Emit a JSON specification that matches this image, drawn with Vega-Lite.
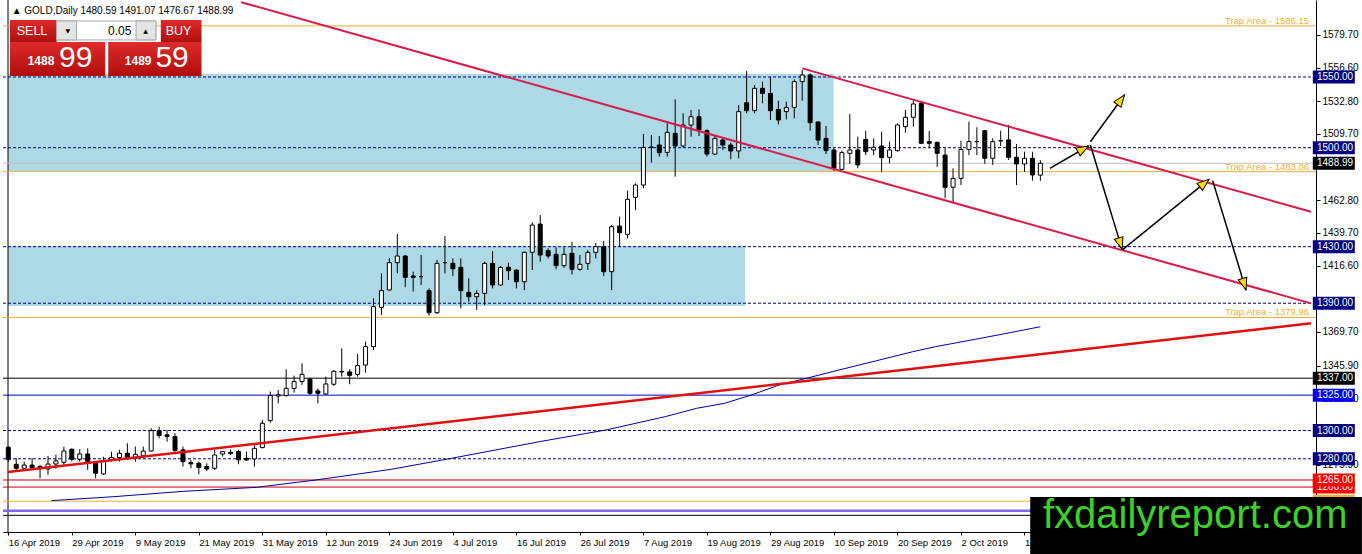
{
  "$schema": "https://vega.github.io/schema/vega-lite/v6.json",
  "width": 1313,
  "height": 532,
  "autosize": {"type": "none"},
  "padding": {"left": 3, "top": 0, "right": 46, "bottom": 22},
  "background": "white",
  "config": {"view": {"stroke": null}, "text": {"font": "Liberation Sans"}},
  "resolve": {"axis": {"x": "independent", "y": "independent"}},
  "datasets": {
    "bars": [
      {"i":0,"o":1288.1,"h":1289.0,"l":1277.5,"c":1279.5},
      {"i":1,"o":1276.1,"h":1280.4,"l":1272.1,"c":1273.3},
      {"i":2,"o":1273.3,"h":1278.0,"l":1271.4,"c":1275.6},
      {"i":3,"o":1275.6,"h":1280.4,"l":1272.1,"c":1273.8},
      {"i":4,"o":1274.5,"h":1275.6,"l":1266.2,"c":1273.3},
      {"i":5,"o":1272.8,"h":1282.0,"l":1268.6,"c":1276.3},
      {"i":6,"o":1276.3,"h":1283.0,"l":1273.0,"c":1278.5},
      {"i":7,"o":1277.5,"h":1288.6,"l":1275.6,"c":1285.5},
      {"i":8,"o":1286.7,"h":1287.4,"l":1278.0,"c":1279.7},
      {"i":9,"o":1279.7,"h":1286.7,"l":1278.0,"c":1283.4},
      {"i":10,"o":1283.4,"h":1287.4,"l":1272.1,"c":1278.0},
      {"i":11,"o":1276.8,"h":1278.0,"l":1266.2,"c":1269.8},
      {"i":12,"o":1269.3,"h":1281.5,"l":1268.6,"c":1278.7},
      {"i":13,"o":1279.2,"h":1285.0,"l":1278.0,"c":1280.9},
      {"i":14,"o":1280.9,"h":1286.3,"l":1278.0,"c":1283.9},
      {"i":15,"o":1283.9,"h":1291.0,"l":1279.2,"c":1280.9},
      {"i":16,"o":1280.4,"h":1288.6,"l":1278.0,"c":1283.2},
      {"i":17,"o":1282.2,"h":1288.6,"l":1280.4,"c":1285.5},
      {"i":18,"o":1285.5,"h":1301.6,"l":1285.1,"c":1299.9},
      {"i":19,"o":1299.9,"h":1302.7,"l":1294.5,"c":1296.4},
      {"i":20,"o":1296.9,"h":1300.4,"l":1292.1,"c":1295.7},
      {"i":21,"o":1295.7,"h":1298.0,"l":1285.1,"c":1285.8},
      {"i":22,"o":1286.3,"h":1288.6,"l":1274.5,"c":1278.0},
      {"i":23,"o":1277.3,"h":1279.2,"l":1273.3,"c":1276.4},
      {"i":24,"o":1276.8,"h":1278.0,"l":1269.0,"c":1273.8},
      {"i":25,"o":1274.5,"h":1276.8,"l":1271.4,"c":1272.8},
      {"i":26,"o":1273.3,"h":1286.3,"l":1272.1,"c":1282.7},
      {"i":27,"o":1283.4,"h":1285.5,"l":1281.5,"c":1285.1},
      {"i":28,"o":1284.6,"h":1286.7,"l":1282.7,"c":1283.6},
      {"i":29,"o":1285.1,"h":1286.3,"l":1276.1,"c":1279.2},
      {"i":30,"o":1280.4,"h":1285.1,"l":1278.5,"c":1279.2},
      {"i":31,"o":1279.9,"h":1291.0,"l":1274.5,"c":1287.4},
      {"i":32,"o":1287.9,"h":1307.5,"l":1287.4,"c":1305.1},
      {"i":33,"o":1307.0,"h":1327.5,"l":1305.6,"c":1324.7},
      {"i":34,"o":1324.4,"h":1328.7,"l":1319.2,"c":1325.2},
      {"i":35,"o":1324.7,"h":1343.3,"l":1324.0,"c":1329.8},
      {"i":36,"o":1329.8,"h":1338.8,"l":1326.8,"c":1334.6},
      {"i":37,"o":1334.6,"h":1347.5,"l":1332.2,"c":1339.7},
      {"i":38,"o":1336.4,"h":1336.9,"l":1325.1,"c":1326.3},
      {"i":39,"o":1328.0,"h":1329.8,"l":1319.2,"c":1326.3},
      {"i":40,"o":1325.8,"h":1338.1,"l":1325.1,"c":1332.9},
      {"i":41,"o":1332.7,"h":1342.8,"l":1331.5,"c":1341.9},
      {"i":42,"o":1341.4,"h":1358.1,"l":1338.1,"c":1341.8},
      {"i":43,"o":1341.4,"h":1343.3,"l":1332.7,"c":1339.0},
      {"i":44,"o":1339.7,"h":1354.1,"l":1338.1,"c":1345.9},
      {"i":45,"o":1346.3,"h":1362.8,"l":1340.9,"c":1359.3},
      {"i":46,"o":1359.3,"h":1393.5,"l":1356.9,"c":1387.6},
      {"i":47,"o":1387.1,"h":1411.2,"l":1381.7,"c":1398.9},
      {"i":48,"o":1399.4,"h":1421.8,"l":1398.9,"c":1418.7},
      {"i":49,"o":1418.7,"h":1439.0,"l":1411.2,"c":1423.4},
      {"i":50,"o":1423.4,"h":1424.1,"l":1401.3,"c":1408.3},
      {"i":51,"o":1409.3,"h":1412.3,"l":1398.2,"c":1408.3},
      {"i":52,"o":1408.8,"h":1424.1,"l":1402.9,"c":1408.8},
      {"i":53,"o":1398.9,"h":1400.5,"l":1381.2,"c":1383.3},
      {"i":54,"o":1383.3,"h":1420.6,"l":1382.4,"c":1418.2},
      {"i":55,"o":1418.7,"h":1437.5,"l":1411.1,"c":1418.7},
      {"i":56,"o":1418.2,"h":1421.7,"l":1409.2,"c":1414.4},
      {"i":57,"o":1415.4,"h":1421.7,"l":1386.4,"c":1398.9},
      {"i":58,"o":1397.7,"h":1407.6,"l":1391.0,"c":1394.6},
      {"i":59,"o":1394.6,"h":1399.3,"l":1385.2,"c":1397.0},
      {"i":60,"o":1397.0,"h":1419.4,"l":1388.7,"c":1418.2},
      {"i":61,"o":1418.2,"h":1426.9,"l":1400.5,"c":1402.9},
      {"i":62,"o":1402.9,"h":1416.3,"l":1402.2,"c":1415.4},
      {"i":63,"o":1415.4,"h":1418.7,"l":1406.4,"c":1413.0},
      {"i":64,"o":1413.5,"h":1414.0,"l":1400.5,"c":1405.2},
      {"i":65,"o":1405.2,"h":1426.5,"l":1399.3,"c":1426.0},
      {"i":66,"o":1426.0,"h":1447.2,"l":1413.5,"c":1445.3},
      {"i":67,"o":1446.0,"h":1452.4,"l":1419.4,"c":1424.1},
      {"i":68,"o":1427.2,"h":1428.8,"l":1421.7,"c":1423.4},
      {"i":69,"o":1424.6,"h":1429.5,"l":1414.0,"c":1416.6},
      {"i":70,"o":1416.6,"h":1429.5,"l":1415.1,"c":1424.6},
      {"i":71,"o":1425.3,"h":1433.5,"l":1410.4,"c":1414.0},
      {"i":72,"o":1414.0,"h":1424.1,"l":1413.0,"c":1417.5},
      {"i":73,"o":1418.2,"h":1427.6,"l":1413.5,"c":1426.0},
      {"i":74,"o":1426.0,"h":1432.8,"l":1421.7,"c":1430.0},
      {"i":75,"o":1430.0,"h":1434.0,"l":1409.2,"c":1412.3},
      {"i":76,"o":1412.3,"h":1445.3,"l":1399.3,"c":1444.1},
      {"i":77,"o":1444.6,"h":1451.2,"l":1430.0,"c":1439.9},
      {"i":78,"o":1438.7,"h":1469.6,"l":1435.9,"c":1463.5},
      {"i":79,"o":1464.9,"h":1474.8,"l":1455.9,"c":1473.6},
      {"i":80,"o":1473.6,"h":1509.7,"l":1471.3,"c":1500.2},
      {"i":81,"o":1500.2,"h":1509.0,"l":1489.4,"c":1500.5},
      {"i":82,"o":1501.9,"h":1508.3,"l":1493.6,"c":1496.5},
      {"i":83,"o":1496.7,"h":1518.9,"l":1493.6,"c":1510.9},
      {"i":84,"o":1510.1,"h":1534.2,"l":1479.5,"c":1501.2},
      {"i":85,"o":1501.2,"h":1524.3,"l":1500.2,"c":1516.0},
      {"i":86,"o":1516.0,"h":1526.6,"l":1507.8,"c":1521.9},
      {"i":87,"o":1521.9,"h":1527.1,"l":1508.3,"c":1512.5},
      {"i":88,"o":1512.0,"h":1513.0,"l":1493.6,"c":1495.5},
      {"i":89,"o":1495.5,"h":1508.3,"l":1494.8,"c":1506.6},
      {"i":90,"o":1505.4,"h":1506.6,"l":1498.4,"c":1501.9},
      {"i":91,"o":1501.9,"h":1503.5,"l":1491.8,"c":1497.7},
      {"i":92,"o":1497.7,"h":1530.2,"l":1492.5,"c":1525.5},
      {"i":93,"o":1531.8,"h":1554.2,"l":1524.3,"c":1526.2},
      {"i":94,"o":1526.2,"h":1544.3,"l":1524.3,"c":1542.0},
      {"i":95,"o":1542.0,"h":1546.7,"l":1531.4,"c":1538.4},
      {"i":96,"o":1538.4,"h":1550.2,"l":1519.6,"c":1526.2},
      {"i":97,"o":1527.1,"h":1533.2,"l":1516.5,"c":1519.6},
      {"i":98,"o":1525.5,"h":1532.5,"l":1520.0,"c":1528.5},
      {"i":99,"o":1528.5,"h":1548.3,"l":1520.8,"c":1546.7},
      {"i":100,"o":1546.7,"h":1554.9,"l":1533.2,"c":1551.4},
      {"i":101,"o":1551.4,"h":1552.6,"l":1512.0,"c":1517.7},
      {"i":102,"o":1518.2,"h":1518.4,"l":1501.9,"c":1505.4},
      {"i":103,"o":1506.6,"h":1515.3,"l":1495.5,"c":1497.9},
      {"i":104,"o":1498.4,"h":1499.6,"l":1483.5,"c":1485.4},
      {"i":105,"o":1484.7,"h":1497.9,"l":1484.2,"c":1496.5},
      {"i":106,"o":1496.0,"h":1523.8,"l":1488.5,"c":1498.4},
      {"i":107,"o":1498.4,"h":1507.8,"l":1485.4,"c":1487.8},
      {"i":108,"o":1505.9,"h":1512.0,"l":1494.8,"c":1497.2},
      {"i":109,"o":1498.4,"h":1506.6,"l":1494.8,"c":1500.3},
      {"i":110,"o":1501.2,"h":1511.3,"l":1483.0,"c":1493.0},
      {"i":111,"o":1493.2,"h":1504.3,"l":1488.9,"c":1498.4},
      {"i":112,"o":1497.9,"h":1517.2,"l":1497.2,"c":1516.1},
      {"i":113,"o":1514.9,"h":1526.7,"l":1510.6,"c":1521.5},
      {"i":114,"o":1521.5,"h":1533.3,"l":1514.9,"c":1530.9},
      {"i":115,"o":1531.4,"h":1533.3,"l":1502.6,"c":1503.1},
      {"i":116,"o":1504.3,"h":1511.8,"l":1499.6,"c":1503.1},
      {"i":117,"o":1503.8,"h":1504.3,"l":1486.6,"c":1496.0},
      {"i":118,"o":1494.8,"h":1499.6,"l":1464.2,"c":1472.0},
      {"i":119,"o":1472.0,"h":1485.4,"l":1460.7,"c":1478.3},
      {"i":120,"o":1478.3,"h":1505.0,"l":1473.6,"c":1498.8},
      {"i":121,"o":1498.8,"h":1518.4,"l":1494.8,"c":1504.3},
      {"i":122,"o":1504.3,"h":1514.4,"l":1494.8,"c":1504.3},
      {"i":123,"o":1512.0,"h":1512.5,"l":1488.5,"c":1492.5},
      {"i":124,"o":1492.5,"h":1506.6,"l":1487.8,"c":1504.3},
      {"i":125,"o":1504.8,"h":1512.0,"l":1501.2,"c":1505.0},
      {"i":126,"o":1505.5,"h":1516.1,"l":1491.3,"c":1493.2},
      {"i":127,"o":1493.2,"h":1502.6,"l":1473.6,"c":1488.5},
      {"i":128,"o":1488.5,"h":1497.2,"l":1483.0,"c":1492.5},
      {"i":129,"o":1492.5,"h":1497.2,"l":1476.7,"c":1480.7},
      {"i":130,"o":1480.59,"h":1491.07,"l":1476.67,"c":1488.99}
    ],
    "levels": [
      {"p":1586.15,"kind":"trap","label":"Trap Area  - 1586.15"},
      {"p":1550,"kind":"dash"},
      {"p":1500,"kind":"dash"},
      {"p":1488.99,"kind":"bid"},
      {"p":1483.06,"kind":"trap","label":"Trap Area - 1483.06"},
      {"p":1430,"kind":"dash"},
      {"p":1390,"kind":"dash"},
      {"p":1379.96,"kind":"trap","label":"Trap Area - 1379.96"},
      {"p":1337,"kind":"black"},
      {"p":1325,"kind":"blue"},
      {"p":1300,"kind":"dash"},
      {"p":1280,"kind":"dash"},
      {"p":1260,"kind":"red"},
      {"p":1265,"kind":"red"},
      {"p":1250,"kind":"orange"},
      {"p":1243.3,"kind":"purple"},
      {"p":1240,"kind":"black"}
    ],
    "zones": [
      {"i1":-0.0375,"i2":103.96,"p1":1483.3,"p2":1552.2},
      {"i1":-0.0375,"i2":92.8,"p1":1388.0,"p2":1430.5}
    ],
    "trend": [
      {"kind":"pink","x1":29.34,"p1":1602.9,"x2":164.09,"p2":1389.9},
      {"kind":"pink","x1":100.0,"p1":1556.1,"x2":164.09,"p2":1454.7},
      {"kind":"red","x1":-0.04,"p1":1270.65,"x2":164.09,"p2":1375.8}
    ],
    "ma": [
      {"i":5.43,"p":1250.4},{"i":13.3,"p":1253.2},{"i":22.1,"p":1257.0},{"i":31.25,"p":1259.8},
      {"i":38.75,"p":1265.0},{"i":48.3,"p":1272.6},{"i":55.8,"p":1280.3},{"i":66.9,"p":1292.1},
      {"i":75.3,"p":1300.4},{"i":82.75,"p":1309.8},{"i":86.7,"p":1315.7},{"i":90.2,"p":1319.2},
      {"i":93.6,"p":1325.1},{"i":97.1,"p":1332.2},{"i":100.5,"p":1336.9},{"i":105,"p":1343.3},
      {"i":109.4,"p":1349.4},{"i":113.9,"p":1355.7},{"i":116.8,"p":1359.3},{"i":121.8,"p":1364.5},
      {"i":126.2,"p":1369.2},{"i":130,"p":1373.4}
    ],
    "arrows": [
      {"x1":131.2,"p1":1485.4,"x2":136.05,"p2":1501.2},
      {"x1":136.3,"p1":1504.2,"x2":140.6,"p2":1537.3},
      {"x1":136.3,"p1":1501.9,"x2":140.3,"p2":1428.1},
      {"x1":140.4,"p1":1428.1,"x2":151.25,"p2":1477.6},
      {"x1":151.7,"p1":1476.7,"x2":155.9,"p2":1399.4}
    ],
    "panel": [
      {"part":"red","i1":0.21,"i2":6.09,"p1":1574.75,"p2":1590.3},
      {"part":"red","i1":0.21,"i2":12.21,"p1":1550.7,"p2":1574.75},
      {"part":"red","i1":19.21,"i2":24.34,"p1":1574.75,"p2":1590.3},
      {"part":"red","i1":12.59,"i2":24.34,"p1":1550.7,"p2":1574.75},
      {"part":"white","i1":6.09,"i2":18.59,"p1":1576.2,"p2":1589.6},
      {"part":"grey","i1":6.09,"i2":8.59,"p1":1576.2,"p2":1589.6},
      {"part":"grey","i1":16.09,"i2":18.59,"p1":1576.2,"p2":1589.6}
    ],
    "ptext": [
      {"t":"SELL","i":2.99,"p":1582.5,"role":"btn"},
      {"t":"BUY","i":21.44,"p":1582.5,"role":"btn"},
      {"t":"0.05","i":15.5,"p":1582.7,"role":"lot"},
      {"t":"▼","i":7.5,"p":1582.7,"role":"arrow"},
      {"t":"▲","i":17.3,"p":1582.7,"role":"arrow"},
      {"t":"1488","i":4.12,"p":1561.3,"role":"small"},
      {"t":"1489","i":16.36,"p":1561.3,"role":"small"},
      {"t":"99","i":8.49,"p":1563.2,"role":"big"},
      {"t":"59","i":20.63,"p":1563.2,"role":"big"}
    ]
  },
  "layer": [
    {
      "data": {"name": "zones"},
      "mark": {"type": "rect", "color": "#ADD8E6"},
      "encoding": {
        "x": {"field": "i1", "type": "quantitative", "scale": {"domain": [-0.0375, 164.0875], "nice": false, "zero": false},
          "axis": {"orient": "bottom", "title": null, "grid": false, "values": [0,8,16,24,32,40,48,56,64,72,80,88,96,104,112,120,128],
            "labelExpr": "['16 Apr 2019','29 Apr 2019','9 May 2019','21 May 2019','31 May 2019','12 Jun 2019','24 Jun 2019','4 Jul 2019','16 Jul 2019','26 Jul 2019','7 Aug 2019','19 Aug 2019','29 Aug 2019','10 Sep 2019','20 Sep 2019','2 Oct 2019','14 Oct 2019'][datum.value/8]",
            "domainColor": "#000", "tickColor": "#000", "tickSize": 3, "labelAlign": "left", "labelBaseline": "top", "labelFlush": false, "labelOverlap": false,
            "labelPadding": 2, "labelFont": "Liberation Sans", "labelFontSize": 9.5, "labelColor": "#000"}},
        "x2": {"field": "i2"},
        "y": {"field": "p1", "type": "quantitative", "scale": {"domain": [1228.22, 1604.45], "nice": false, "zero": false},
          "axis": {"orient": "right", "title": null, "grid": false, "values": [1579.7,1556.6,1532.8,1509.7,1462.8,1439.7,1416.6,1369.7,1345.9,1322.8,1275.9],
            "labelExpr": "format(datum.value, '.2f')", "domainColor": "#000", "tickColor": "#000", "tickSize": 4, "labelPadding": 2,
            "labelFlush": false, "labelOverlap": false, "labelAlign": "left", "labelBaseline": "middle",
            "labelFont": "Liberation Sans", "labelFontSize": 10, "labelColor": "#000"}},
        "y2": {"field": "p2"}
      }
    },
    {
      "data": {"values": [{}]},
      "mark": {"type": "rule", "color": "#000", "strokeWidth": 1},
      "encoding": {"x": {"datum": -0.0375, "type": "quantitative", "scale": {"domain": [-0.0375, 164.0875], "nice": false, "zero": false}, "axis": null}}
    },
    {
      "data": {"name": "levels"},
      "transform": [{"filter": "datum.kind == 'trap' || datum.kind == 'orange'"}],
      "mark": {"type": "rule", "color": "#F0B030", "strokeWidth": 1},
      "encoding": {"y": {"field": "p", "type": "quantitative", "scale": {"domain": [1228.22, 1604.45], "nice": false, "zero": false}, "axis": null}}
    },
    {
      "data": {"name": "levels"},
      "transform": [{"filter": "datum.kind == 'bid'"}],
      "mark": {"type": "rule", "color": "#C0C0C0", "strokeWidth": 1},
      "encoding": {"y": {"field": "p", "type": "quantitative", "scale": {"domain": [1228.22, 1604.45], "nice": false, "zero": false}, "axis": null}}
    },
    {
      "data": {"name": "levels"},
      "transform": [{"filter": "datum.kind == 'dash'"}],
      "mark": {"type": "rule", "color": "#000080", "strokeWidth": 1, "strokeDash": [3, 2]},
      "encoding": {"y": {"field": "p", "type": "quantitative", "scale": {"domain": [1228.22, 1604.45], "nice": false, "zero": false}, "axis": null}}
    },
    {
      "data": {"name": "levels"},
      "transform": [{"filter": "datum.kind == 'black'"}],
      "mark": {"type": "rule", "color": "#000000", "strokeWidth": 1},
      "encoding": {"y": {"field": "p", "type": "quantitative", "scale": {"domain": [1228.22, 1604.45], "nice": false, "zero": false}, "axis": null}}
    },
    {
      "data": {"name": "levels"},
      "transform": [{"filter": "datum.kind == 'blue'"}],
      "mark": {"type": "rule", "color": "#0000CC", "strokeWidth": 1},
      "encoding": {"y": {"field": "p", "type": "quantitative", "scale": {"domain": [1228.22, 1604.45], "nice": false, "zero": false}, "axis": null}}
    },
    {
      "data": {"name": "levels"},
      "transform": [{"filter": "datum.kind == 'red'"}],
      "mark": {"type": "rule", "color": "#C80000", "strokeWidth": 1},
      "encoding": {"y": {"field": "p", "type": "quantitative", "scale": {"domain": [1228.22, 1604.45], "nice": false, "zero": false}, "axis": null}}
    },
    {
      "data": {"name": "levels"},
      "transform": [{"filter": "datum.kind == 'purple'"}],
      "mark": {"type": "rule", "color": "#7B68EE", "strokeWidth": 2.5},
      "encoding": {"y": {"field": "p", "type": "quantitative", "scale": {"domain": [1228.22, 1604.45], "nice": false, "zero": false}, "axis": null}}
    },
    {
      "data": {"name": "ma"},
      "mark": {"type": "line", "color": "#0000A0", "strokeWidth": 1},
      "encoding": {
        "x": {"field": "i", "type": "quantitative", "scale": {"domain": [-0.0375, 164.0875], "nice": false, "zero": false}, "axis": null},
        "y": {"field": "p", "type": "quantitative", "scale": {"domain": [1228.22, 1604.45], "nice": false, "zero": false}, "axis": null}
      }
    },
    {
      "data": {"name": "bars"},
      "mark": {"type": "rule", "color": "#000", "strokeWidth": 1},
      "encoding": {
        "x": {"field": "i", "type": "quantitative", "scale": {"domain": [-0.0375, 164.0875], "nice": false, "zero": false}, "axis": null},
        "y": {"field": "l", "type": "quantitative", "scale": {"domain": [1228.22, 1604.45], "nice": false, "zero": false}, "axis": null},
        "y2": {"field": "h"}
      }
    },
    {
      "data": {"name": "bars"},
      "mark": {"type": "bar", "size": 4, "stroke": "#000", "strokeWidth": 1},
      "encoding": {
        "x": {"field": "i", "type": "quantitative", "scale": {"domain": [-0.0375, 164.0875], "nice": false, "zero": false}, "axis": null},
        "y": {"field": "o", "type": "quantitative", "scale": {"domain": [1228.22, 1604.45], "nice": false, "zero": false}, "axis": null},
        "y2": {"field": "c"},
        "fill": {"condition": {"test": "datum.c >= datum.o", "value": "#FFFFFF"}, "value": "#000000"}
      }
    },
    {
      "data": {"name": "trend"},
      "transform": [{"filter": "datum.kind == 'pink'"}],
      "mark": {"type": "rule", "color": "#D81B4A", "strokeWidth": 2},
      "encoding": {
        "x": {"field": "x1", "type": "quantitative", "scale": {"domain": [-0.0375, 164.0875], "nice": false, "zero": false}, "axis": null},
        "y": {"field": "p1", "type": "quantitative", "scale": {"domain": [1228.22, 1604.45], "nice": false, "zero": false}, "axis": null},
        "x2": {"field": "x2"},
        "y2": {"field": "p2"}
      }
    },
    {
      "data": {"name": "trend"},
      "transform": [{"filter": "datum.kind == 'red'"}],
      "mark": {"type": "rule", "color": "#E01010", "strokeWidth": 2.5},
      "encoding": {
        "x": {"field": "x1", "type": "quantitative", "scale": {"domain": [-0.0375, 164.0875], "nice": false, "zero": false}, "axis": null},
        "y": {"field": "p1", "type": "quantitative", "scale": {"domain": [1228.22, 1604.45], "nice": false, "zero": false}, "axis": null},
        "x2": {"field": "x2"},
        "y2": {"field": "p2"}
      }
    },
    {
      "data": {"name": "arrows"},
      "mark": {"type": "rule", "color": "#000", "strokeWidth": 1.5},
      "encoding": {
        "x": {"field": "x1", "type": "quantitative", "scale": {"domain": [-0.0375, 164.0875], "nice": false, "zero": false}, "axis": null},
        "y": {"field": "p1", "type": "quantitative", "scale": {"domain": [1228.22, 1604.45], "nice": false, "zero": false}, "axis": null},
        "x2": {"field": "x2"},
        "y2": {"field": "p2"}
      }
    },
    {
      "data": {"name": "arrows"},
      "transform": [{"calculate": "atan2((datum.x2 - datum.x1) * 8, (datum.p2 - datum.p1) * 1.414) * 180 / PI", "as": "ang"}],
      "mark": {"type": "point", "shape": "M0,0L0.375,1L-0.375,1Z", "size": 576, "filled": true, "fill": "#FFD800", "stroke": "#000", "strokeWidth": 1, "opacity": 1},
      "encoding": {
        "x": {"field": "x2", "type": "quantitative", "scale": {"domain": [-0.0375, 164.0875], "nice": false, "zero": false}, "axis": null},
        "y": {"field": "p2", "type": "quantitative", "scale": {"domain": [1228.22, 1604.45], "nice": false, "zero": false}, "axis": null},
        "angle": {"field": "ang", "type": "quantitative", "scale": null}
      }
    },
    {
      "data": {"name": "levels"},
      "transform": [{"filter": "datum.kind == 'trap'"}],
      "mark": {"type": "text", "align": "right", "baseline": "alphabetic", "dy": -2, "color": "#F0B030", "fontSize": 9.5},
      "encoding": {
        "x": {"datum": 163.84, "type": "quantitative", "scale": {"domain": [-0.0375, 164.0875], "nice": false, "zero": false}, "axis": null},
        "y": {"field": "p", "type": "quantitative", "scale": {"domain": [1228.22, 1604.45], "nice": false, "zero": false}, "axis": null},
        "text": {"field": "label"}
      }
    },
    {
      "data": {"name": "levels"},
      "transform": [{"filter": "datum.kind != 'trap' && datum.kind != 'purple' && datum.p != 1240 && datum.p != 1265"}],
      "mark": {"type": "point", "shape": "M-1,-0.31H1V0.31H-1Z", "size": 1764, "filled": true, "opacity": 1, "strokeWidth": 0},
      "encoding": {
        "x": {"datum": 166.96, "type": "quantitative", "scale": {"domain": [-0.0375, 164.0875], "nice": false, "zero": false}, "axis": null},
        "y": {"field": "p", "type": "quantitative", "scale": {"domain": [1228.22, 1604.45], "nice": false, "zero": false}, "axis": null},
        "color": {"field": "kind", "type": "nominal", "legend": null,
          "scale": {"domain": ["dash", "bid", "black", "blue", "red", "orange"], "range": ["#000080", "#000000", "#000000", "#0000FF", "#FF0000", "#F0B030"]}}
      }
    },
    {
      "data": {"name": "levels"},
      "transform": [{"filter": "datum.kind != 'trap' && datum.kind != 'purple' && datum.kind != 'orange' && datum.p != 1240 && datum.p != 1265"}],
      "mark": {"type": "text", "align": "left", "baseline": "middle", "color": "#FFFFFF", "fontSize": 10},
      "encoding": {
        "x": {"datum": 164.84, "type": "quantitative", "scale": {"domain": [-0.0375, 164.0875], "nice": false, "zero": false}, "axis": null},
        "y": {"field": "p", "type": "quantitative", "scale": {"domain": [1228.22, 1604.45], "nice": false, "zero": false}, "axis": null},
        "text": {"field": "p", "type": "quantitative", "format": ".2f"}
      }
    },
    {
      "data": {"name": "levels"},
      "transform": [{"filter": "datum.p == 1265"}],
      "mark": {"type": "point", "shape": "M-1,-0.31H1V0.31H-1Z", "size": 1764, "filled": true, "opacity": 1, "strokeWidth": 0, "color": "#FF0000"},
      "encoding": {
        "x": {"datum": 166.96, "type": "quantitative", "scale": {"domain": [-0.0375, 164.0875], "nice": false, "zero": false}, "axis": null},
        "y": {"field": "p", "type": "quantitative", "scale": {"domain": [1228.22, 1604.45], "nice": false, "zero": false}, "axis": null}
      }
    },
    {
      "data": {"name": "levels"},
      "transform": [{"filter": "datum.p == 1265"}],
      "mark": {"type": "text", "align": "left", "baseline": "middle", "color": "#FFFFFF", "fontSize": 10},
      "encoding": {
        "x": {"datum": 164.84, "type": "quantitative", "scale": {"domain": [-0.0375, 164.0875], "nice": false, "zero": false}, "axis": null},
        "y": {"field": "p", "type": "quantitative", "scale": {"domain": [1228.22, 1604.45], "nice": false, "zero": false}, "axis": null},
        "text": {"field": "p", "type": "quantitative", "format": ".2f"}
      }
    },
    {
      "data": {"name": "panel"},
      "transform": [{"filter": "datum.part == 'red'"}],
      "mark": {"type": "rect", "fill": {"gradient": "linear", "x1": 0, "y1": 0, "x2": 0, "y2": 1, "stops": [{"offset": 0, "color": "#DE2A2A"}, {"offset": 1, "color": "#B00E0E"}]}},
      "encoding": {
        "x": {"field": "i1", "type": "quantitative", "scale": {"domain": [-0.0375, 164.0875], "nice": false, "zero": false}, "axis": null},
        "x2": {"field": "i2"},
        "y": {"field": "p1", "type": "quantitative", "scale": {"domain": [1228.22, 1604.45], "nice": false, "zero": false}, "axis": null},
        "y2": {"field": "p2"}
      }
    },
    {
      "data": {"name": "panel"},
      "transform": [{"filter": "datum.part == 'white'"}],
      "mark": {"type": "rect", "fill": "#FFFFFF", "stroke": "#A8A8A8", "strokeWidth": 1},
      "encoding": {
        "x": {"field": "i1", "type": "quantitative", "scale": {"domain": [-0.0375, 164.0875], "nice": false, "zero": false}, "axis": null},
        "x2": {"field": "i2"},
        "y": {"field": "p1", "type": "quantitative", "scale": {"domain": [1228.22, 1604.45], "nice": false, "zero": false}, "axis": null},
        "y2": {"field": "p2"}
      }
    },
    {
      "data": {"name": "panel"},
      "transform": [{"filter": "datum.part == 'grey'"}],
      "mark": {"type": "rect", "fill": "#E4E4E4", "stroke": "#A8A8A8", "strokeWidth": 1},
      "encoding": {
        "x": {"field": "i1", "type": "quantitative", "scale": {"domain": [-0.0375, 164.0875], "nice": false, "zero": false}, "axis": null},
        "x2": {"field": "i2"},
        "y": {"field": "p1", "type": "quantitative", "scale": {"domain": [1228.22, 1604.45], "nice": false, "zero": false}, "axis": null},
        "y2": {"field": "p2"}
      }
    },
    {
      "data": {"name": "ptext"},
      "transform": [{"filter": "datum.role == 'btn'"}],
      "mark": {"type": "text", "align": "center", "baseline": "middle", "color": "#FFFFFF", "fontSize": 12.5},
      "encoding": {
        "x": {"field": "i", "type": "quantitative", "scale": {"domain": [-0.0375, 164.0875], "nice": false, "zero": false}, "axis": null},
        "y": {"field": "p", "type": "quantitative", "scale": {"domain": [1228.22, 1604.45], "nice": false, "zero": false}, "axis": null},
        "text": {"field": "t"}
      }
    },
    {
      "data": {"name": "ptext"},
      "transform": [{"filter": "datum.role == 'lot'"}],
      "mark": {"type": "text", "align": "right", "baseline": "middle", "color": "#000000", "fontSize": 12},
      "encoding": {
        "x": {"field": "i", "type": "quantitative", "scale": {"domain": [-0.0375, 164.0875], "nice": false, "zero": false}, "axis": null},
        "y": {"field": "p", "type": "quantitative", "scale": {"domain": [1228.22, 1604.45], "nice": false, "zero": false}, "axis": null},
        "text": {"field": "t"}
      }
    },
    {
      "data": {"name": "ptext"},
      "transform": [{"filter": "datum.role == 'arrow'"}],
      "mark": {"type": "text", "align": "center", "baseline": "middle", "color": "#000000", "fontSize": 6, "font": "DejaVu Sans"},
      "encoding": {
        "x": {"field": "i", "type": "quantitative", "scale": {"domain": [-0.0375, 164.0875], "nice": false, "zero": false}, "axis": null},
        "y": {"field": "p", "type": "quantitative", "scale": {"domain": [1228.22, 1604.45], "nice": false, "zero": false}, "axis": null},
        "text": {"field": "t"}
      }
    },
    {
      "data": {"name": "ptext"},
      "transform": [{"filter": "datum.role == 'small'"}],
      "mark": {"type": "text", "align": "center", "baseline": "middle", "color": "#FFFFFF", "fontSize": 12, "fontWeight": "bold"},
      "encoding": {
        "x": {"field": "i", "type": "quantitative", "scale": {"domain": [-0.0375, 164.0875], "nice": false, "zero": false}, "axis": null},
        "y": {"field": "p", "type": "quantitative", "scale": {"domain": [1228.22, 1604.45], "nice": false, "zero": false}, "axis": null},
        "text": {"field": "t"}
      }
    },
    {
      "data": {"name": "ptext"},
      "transform": [{"filter": "datum.role == 'big'"}],
      "mark": {"type": "text", "align": "center", "baseline": "middle", "color": "#FFFFFF", "fontSize": 30},
      "encoding": {
        "x": {"field": "i", "type": "quantitative", "scale": {"domain": [-0.0375, 164.0875], "nice": false, "zero": false}, "axis": null},
        "y": {"field": "p", "type": "quantitative", "scale": {"domain": [1228.22, 1604.45], "nice": false, "zero": false}, "axis": null},
        "text": {"field": "t"}
      }
    },
    {
      "data": {"values": [{"t": "▲ GOLD,Daily  1480.59 1491.07 1476.67 1488.99"}]},
      "mark": {"type": "text", "align": "left", "baseline": "middle", "color": "#000000", "fontSize": 10, "font": "Liberation Sans, DejaVu Sans"},
      "encoding": {
        "x": {"datum": 0.42, "type": "quantitative", "scale": {"domain": [-0.0375, 164.0875], "nice": false, "zero": false}, "axis": null},
        "y": {"datum": 1596.7, "type": "quantitative", "scale": {"domain": [1228.22, 1604.45], "nice": false, "zero": false}, "axis": null},
        "text": {"field": "t"}
      }
    },
    {
      "data": {"values": [{}]},
      "mark": {"type": "rect", "color": "#000000"},
      "encoding": {
        "x": {"datum": 128.72, "type": "quantitative", "scale": {"domain": [-0.0375, 164.0875], "nice": false, "zero": false}, "axis": null},
        "x2": {"datum": 170.5},
        "y": {"datum": 1252.97, "type": "quantitative", "scale": {"domain": [1228.22, 1604.45], "nice": false, "zero": false}, "axis": null},
        "y2": {"datum": 1212.65}
      }
    },
    {
      "data": {"values": [{"t": "fxdailyreport.com"}]},
      "mark": {"type": "text", "align": "center", "baseline": "alphabetic", "color": "#3DD12A", "fontSize": 40},
      "encoding": {
        "x": {"datum": 149.5, "type": "quantitative", "scale": {"domain": [-0.0375, 164.0875], "nice": false, "zero": false}, "axis": null},
        "y": {"datum": 1231.05, "type": "quantitative", "scale": {"domain": [1228.22, 1604.45], "nice": false, "zero": false}, "axis": null},
        "text": {"field": "t"}
      }
    }
  ]
}
